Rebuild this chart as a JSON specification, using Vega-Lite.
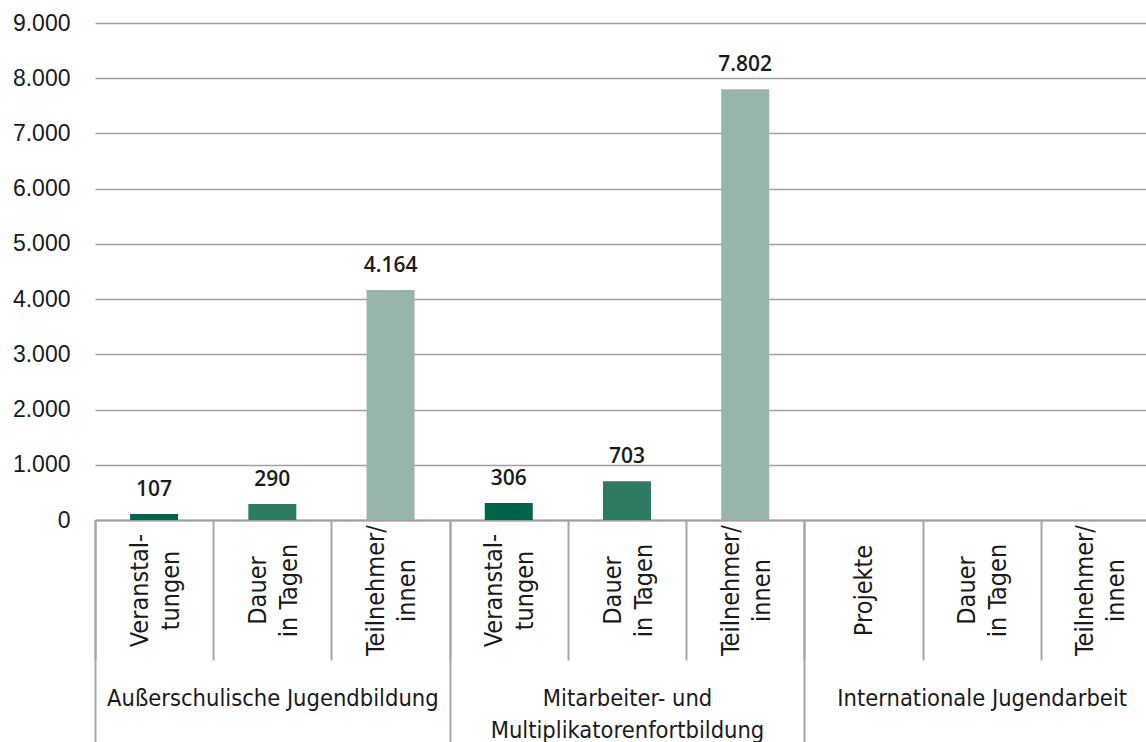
{
  "$schema": "https://vega.github.io/schema/vega-lite/v6.json",
  "width": 1064,
  "height": 497,
  "autosize": {"type": "none"},
  "padding": {"left": 95, "top": 23, "right": 0, "bottom": 222},
  "background": "#ffffff",
  "config": {
    "locale": {"number": {"decimal": ",", "thousands": ".", "grouping": [3], "currency": ["", " €"]}},
    "view": {"stroke": null},
    "axis": {"labelColor": "#1a1a1a", "titleColor": "#1a1a1a"}
  },
  "data": {
    "values": [
      {"group": "Außerschulische Jugendbildung", "slot": "A|Veranstal-|tungen", "kind": "Veranstaltungen", "value": 107},
      {"group": "Außerschulische Jugendbildung", "slot": "A|Dauer|in Tagen", "kind": "Dauer in Tagen", "value": 290},
      {"group": "Außerschulische Jugendbildung", "slot": "A|Teilnehmer/|innen", "kind": "Teilnehmer/innen", "value": 4164},
      {"group": "Mitarbeiter- und|Multiplikatorenfortbildung", "slot": "B|Veranstal-|tungen", "kind": "Veranstaltungen", "value": 306},
      {"group": "Mitarbeiter- und|Multiplikatorenfortbildung", "slot": "B|Dauer|in Tagen", "kind": "Dauer in Tagen", "value": 703},
      {"group": "Mitarbeiter- und|Multiplikatorenfortbildung", "slot": "B|Teilnehmer/|innen", "kind": "Teilnehmer/innen", "value": 7802},
      {"group": "Internationale Jugendarbeit", "slot": "C|Projekte", "kind": "Veranstaltungen", "value": null},
      {"group": "Internationale Jugendarbeit", "slot": "C|Dauer|in Tagen", "kind": "Dauer in Tagen", "value": null},
      {"group": "Internationale Jugendarbeit", "slot": "C|Teilnehmer/|innen", "kind": "Teilnehmer/innen", "value": null}
    ]
  },
  "layer": [
    {
      "encoding": {
        "x": {
          "field": "slot",
          "type": "nominal",
          "sort": null,
          "scale": {
            "domain": ["A|Veranstal-|tungen", "A|Dauer|in Tagen", "A|Teilnehmer/|innen", "B|Veranstal-|tungen", "B|Dauer|in Tagen", "B|Teilnehmer/|innen", "C|Projekte", "C|Dauer|in Tagen", "C|Teilnehmer/|innen"],
            "paddingInner": 0,
            "paddingOuter": 0
          },
          "axis": {
            "title": null,
            "orient": "bottom",
            "labelExpr": "datum.value ? slice(split(datum.value, '|'), 1) : ''",
            "labelAngle": 270,
            "labelAlign": "center",
            "labelBaseline": "middle",
            "labelFont": "DejaVu Sans Condensed",
            "labelFontSize": 25,
            "labelLineHeight": 31,
            "labelPadding": -70,
            "labelOffset": {"condition": {"test": "datum.value === 'C|Projekte'", "value": 0}, "value": -15},
            "labelOverlap": false,
            "labelBound": false,
            "labelFlush": false,
            "labelLimit": 400,
            "domain": true,
            "domainColor": "#a0a0a0",
            "domainWidth": 2,
            "ticks": true,
            "tickBand": "extent",
            "tickSize": 140,
            "tickColor": "#a6a6a6",
            "tickWidth": 2,
            "grid": false
          }
        },
        "y": {
          "field": "value",
          "type": "quantitative",
          "scale": {"domain": [0, 9000], "nice": false},
          "axis": {
            "title": null,
            "values": [0, 1000, 2000, 3000, 4000, 5000, 6000, 7000, 8000, 9000],
            "format": ",d",
            "labelFont": "Liberation Sans",
            "labelFontSize": 23,
            "labelPadding": 25,
            "domain": false,
            "ticks": false,
            "grid": true,
            "gridColor": "#a0a0a0",
            "gridWidth": 1.6
          }
        }
      },
      "layer": [
        {
          "mark": {"type": "bar", "width": {"band": 0.406}},
          "encoding": {
            "color": {
              "field": "kind",
              "type": "nominal",
              "scale": {
                "domain": ["Veranstaltungen", "Dauer in Tagen", "Teilnehmer/innen"],
                "range": ["#00644d", "#2e7b64", "#98b5a9"]
              },
              "legend": null
            }
          }
        },
        {
          "transform": [{"filter": "isValid(datum.value)"}],
          "mark": {
            "type": "text",
            "baseline": "alphabetic",
            "dy": -18,
            "font": "Open Sans",
            "fontWeight": 600,
            "fontSize": 21,
            "color": "#1a1a1a"
          },
          "encoding": {
            "text": {"field": "value", "type": "quantitative", "format": ",d"}
          }
        }
      ]
    },
    {
      "mark": {"type": "rule", "opacity": 0},
      "encoding": {
        "x": {
          "field": "group",
          "type": "nominal",
          "sort": null,
          "scale": {
            "domain": ["Außerschulische Jugendbildung", "Mitarbeiter- und|Multiplikatorenfortbildung", "Internationale Jugendarbeit"],
            "paddingInner": 0,
            "paddingOuter": 0
          },
          "axis": {
            "title": null,
            "orient": "bottom",
            "labelExpr": "datum.value ? split(datum.value, '|') : ''",
            "labelAngle": 0,
            "labelAlign": "center",
            "labelBaseline": "top",
            "labelFont": "DejaVu Sans Condensed",
            "labelFontSize": 23.5,
            "labelLineHeight": 32,
            "labelPadding": -56,
            "labelOverlap": false,
            "labelBound": false,
            "labelFlush": false,
            "labelLimit": 600,
            "domain": false,
            "ticks": true,
            "tickBand": "extent",
            "tickSize": 222,
            "tickColor": "#a6a6a6",
            "tickWidth": 2,
            "grid": false
          }
        }
      }
    }
  ],
  "resolve": {"scale": {"x": "independent"}, "axis": {"x": "independent"}}
}
